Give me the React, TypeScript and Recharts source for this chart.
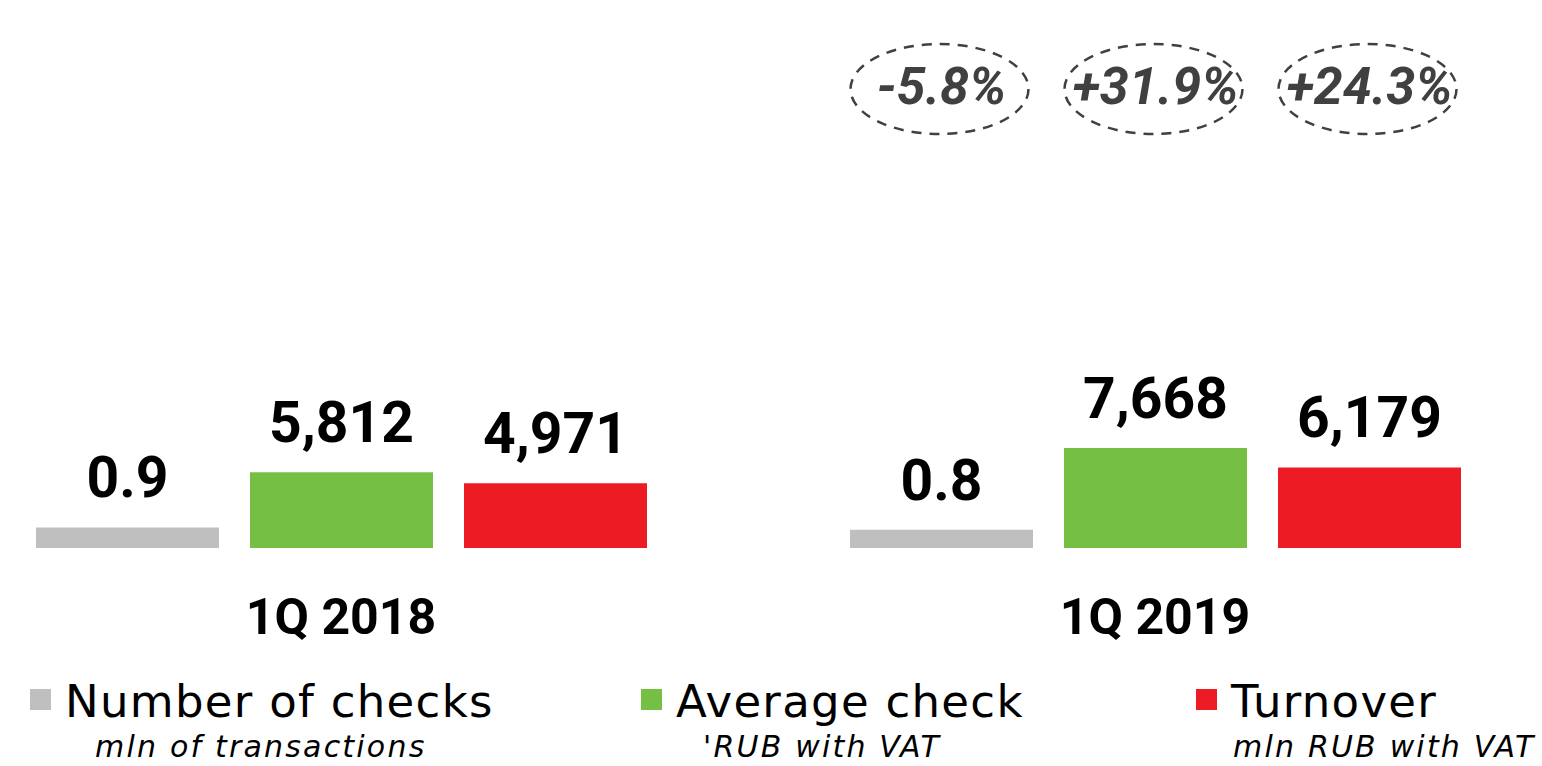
import React from "react";
import { Bar, BarChart, LabelList, Legend, XAxis, YAxis } from "recharts";

const categories = ["1Q 2018", "1Q 2019"];
const checksCount = [0.9, 0.8];
const averageCheck = [5812, 7668];
const turnover = [4971, 6179];
const growthLabels = ["-5.8%", "+31.9%", "+24.3%"];
const seriesNames = ["Number of checks", "Average check", "Turnover"];
const seriesUnits = ["mln of transactions", "'RUB with VAT", "mln RUB with VAT"];

const COLORS = ["#BFBFBF", "#74BF44", "#ED1C24"];
const SHIFT = 66; // chart svg sits left of the page edge so the bands line up

const data = categories.map((category, i) => ({
  category,
  checks: checksCount[i],
  avg: averageCheck[i],
  turnover: turnover[i],
}));

const fmtOne = (v: number) => v.toFixed(1);
const fmtThousands = (v: number) => v.toLocaleString("en-US");

function makeLabel(fmt: (v: number) => string, growth: string) {
  return (props: any) => {
    const { x, y, width, value, index } = props;
    const cx = Number(x) + Number(width) / 2;
    return (
      <g>
        <text
          x={cx}
          y={Number(y) - 30}
          textAnchor="middle"
          fontFamily="Roboto"
          fontWeight={700}
          fontSize={57}
          fill="#000"
        >
          {fmt(Number(value))}
        </text>
        {index === categories.length - 1 && (
          <g>
            <ellipse
              cx={cx - 2}
              cy={89}
              rx={89}
              ry={45}
              fill="none"
              stroke="#404040"
              strokeWidth={2.5}
              strokeDasharray="10 8"
            />
            <text
              x={cx}
              y={104}
              textAnchor="middle"
              fontFamily="Roboto"
              fontStyle="italic"
              fontWeight={700}
              fontSize={52}
              fill="#404040"
            >
              {growth}
            </text>
          </g>
        )}
      </g>
    );
  };
}

const CategoryTick = (props: any) => {
  const { x, payload } = props;
  return (
    <text
      x={x}
      y={634}
      textAnchor="middle"
      fontFamily="Roboto"
      fontWeight={700}
      fontSize={50}
      fill="#000"
    >
      {payload.value}
    </text>
  );
};

const legendX = [30, 641, 1196];
const unitIndent = [65, 62, 37];

const renderLegend = () => (
  <svg width={1628} height={94} style={{ display: "block" }}>
    {seriesNames.map((name, i) => {
      const left = legendX[i] + SHIFT;
      return (
        <g key={name}>
          <rect x={left} y={13} width={21} height={21} fill={COLORS[i]} />
          <text
            x={left + 35}
            y={41}
            fontFamily="DejaVu Sans"
            fontSize={45}
            letterSpacing={1.3}
            fill="#000"
          >
            {name}
          </text>
          <text
            x={left + unitIndent[i]}
            y={81}
            fontFamily="DejaVu Sans"
            fontStyle="italic"
            fontSize={30}
            letterSpacing={2.2}
            fill="#000"
          >
            {seriesUnits[i]}
          </text>
        </g>
      );
    })}
  </svg>
);

export default function App() {
  return (
    <div
      style={{
        position: "absolute",
        top: 0,
        left: 0,
        width: 1542,
        height: 766,
        overflow: "hidden",
        background: "#fff",
      }}
    >
      <div style={{ position: "absolute", left: -SHIFT, top: 0 }}>
        <BarChart
          width={1628}
          height={766}
          data={data}
          margin={{ top: 200, right: 0, bottom: 148, left: 0 }}
          barSize={183}
          barGap={31}
        >
          <XAxis
            dataKey="category"
            axisLine={false}
            tickLine={false}
            interval={0}
            height={70}
            tick={<CategoryTick />}
          />
          <YAxis yAxisId="count" hide domain={[0, 15.2]} allowDataOverflow />
          <YAxis yAxisId="rub" hide domain={[0, 26700]} allowDataOverflow />
          <Legend
            layout="horizontal"
            verticalAlign="middle"
            align="center"
            content={renderLegend}
            wrapperStyle={{ left: 0, top: 676, width: 1628, height: 94 }}
          />
          <Bar yAxisId="count" dataKey="checks" name={seriesNames[0]} fill={COLORS[0]} isAnimationActive={false}>
            <LabelList dataKey="checks" content={makeLabel(fmtOne, growthLabels[0])} />
          </Bar>
          <Bar yAxisId="rub" dataKey="avg" name={seriesNames[1]} fill={COLORS[1]} isAnimationActive={false}>
            <LabelList dataKey="avg" content={makeLabel(fmtThousands, growthLabels[1])} />
          </Bar>
          <Bar yAxisId="rub" dataKey="turnover" name={seriesNames[2]} fill={COLORS[2]} isAnimationActive={false}>
            <LabelList dataKey="turnover" content={makeLabel(fmtThousands, growthLabels[2])} />
          </Bar>
        </BarChart>
      </div>
    </div>
  );
}
